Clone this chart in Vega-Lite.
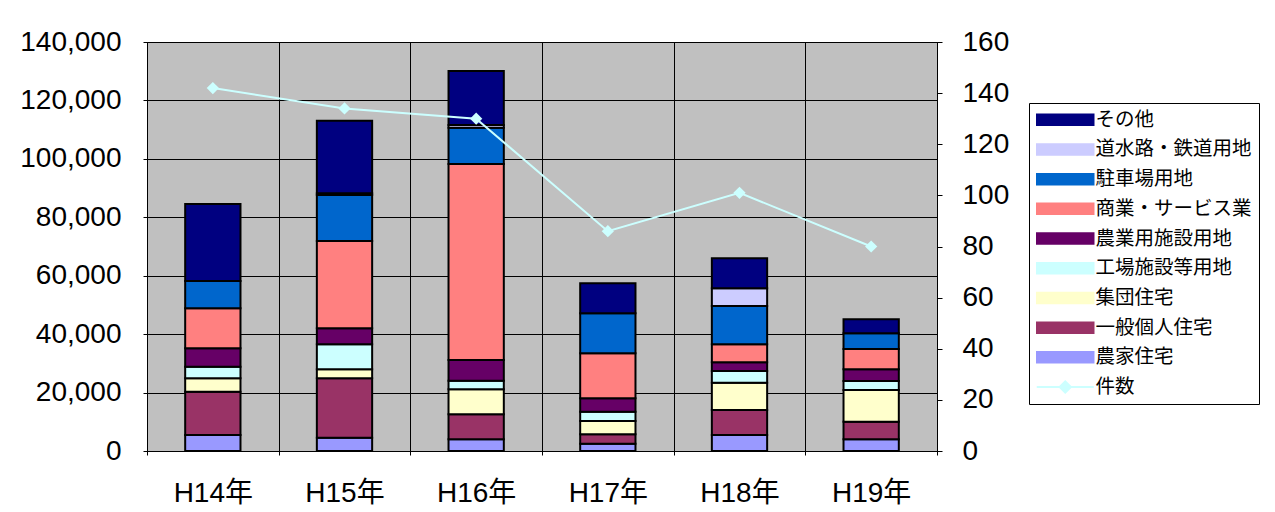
{
  "$schema": "https://vega.github.io/schema/vega-lite/v6.json",
  "width": 790,
  "height": 409,
  "autosize": {"type": "none"},
  "padding": {"left": 147, "top": 42, "right": 338, "bottom": 61},
  "background": "white",
  "config": {
    "font": "Liberation Sans, Noto Sans CJK JP",
    "view": {"fill": "#C0C0C0", "stroke": "#000000", "strokeWidth": 1}
  },
  "datasets": {
    "area": [
      {"年": "H14年", "用途": "農家住宅", "面積": 5480},
      {"年": "H14年", "用途": "一般個人住宅", "面積": 14820},
      {"年": "H14年", "用途": "集団住宅", "面積": 4580},
      {"年": "H14年", "用途": "工場施設等用地", "面積": 3980},
      {"年": "H14年", "用途": "農業用施設用地", "面積": 6290},
      {"年": "H14年", "用途": "商業・サービス業", "面積": 13700},
      {"年": "H14年", "用途": "駐車場用地", "面積": 9340},
      {"年": "H14年", "用途": "その他", "面積": 26360},
      {"年": "H15年", "用途": "農家住宅", "面積": 4560},
      {"年": "H15年", "用途": "一般個人住宅", "面積": 20320},
      {"年": "H15年", "用途": "集団住宅", "面積": 3080},
      {"年": "H15年", "用途": "工場施設等用地", "面積": 8550},
      {"年": "H15年", "用途": "農業用施設用地", "面積": 5480},
      {"年": "H15年", "用途": "商業・サービス業", "面積": 29890},
      {"年": "H15年", "用途": "駐車場用地", "面積": 15750},
      {"年": "H15年", "用途": "道水路・鉄道用地", "面積": 570},
      {"年": "H15年", "用途": "その他", "面積": 24860},
      {"年": "H16年", "用途": "農家住宅", "面積": 3990},
      {"年": "H16年", "用途": "一般個人住宅", "面積": 8560},
      {"年": "H16年", "用途": "集団住宅", "面積": 8560},
      {"年": "H16年", "用途": "工場施設等用地", "面積": 2960},
      {"年": "H16年", "用途": "農業用施設用地", "面積": 7080},
      {"年": "H16年", "用途": "商業・サービス業", "面積": 67090},
      {"年": "H16年", "用途": "駐車場用地", "面積": 12440},
      {"年": "H16年", "用途": "道水路・鉄道用地", "面積": 910},
      {"年": "H16年", "用途": "その他", "面積": 18480},
      {"年": "H17年", "用途": "農家住宅", "面積": 2510},
      {"年": "H17年", "用途": "一般個人住宅", "面積": 3190},
      {"年": "H17年", "用途": "集団住宅", "面積": 4570},
      {"年": "H17年", "用途": "工場施設等用地", "面積": 3190},
      {"年": "H17年", "用途": "農業用施設用地", "面積": 4570},
      {"年": "H17年", "用途": "商業・サービス業", "面積": 15400},
      {"年": "H17年", "用途": "駐車場用地", "面積": 13700},
      {"年": "H17年", "用途": "その他", "面積": 10270},
      {"年": "H18年", "用途": "農家住宅", "面積": 5480},
      {"年": "H18年", "用途": "一般個人住宅", "面積": 8550},
      {"年": "H18年", "用途": "集団住宅", "面積": 9360},
      {"年": "H18年", "用途": "工場施設等用地", "面積": 3990},
      {"年": "H18年", "用途": "農業用施設用地", "面積": 2970},
      {"年": "H18年", "用途": "商業・サービス業", "面積": 6160},
      {"年": "H18年", "用途": "駐車場用地", "面積": 13120},
      {"年": "H18年", "用途": "道水路・鉄道用地", "面積": 6050},
      {"年": "H18年", "用途": "その他", "面積": 10270},
      {"年": "H19年", "用途": "農家住宅", "面積": 3990},
      {"年": "H19年", "用途": "一般個人住宅", "面積": 6050},
      {"年": "H19年", "用途": "集団住宅", "面積": 10840},
      {"年": "H19年", "用途": "工場施設等用地", "面積": 3080},
      {"年": "H19年", "用途": "農業用施設用地", "面積": 4000},
      {"年": "H19年", "用途": "商業・サービス業", "面積": 6950},
      {"年": "H19年", "用途": "駐車場用地", "面積": 5370},
      {"年": "H19年", "用途": "その他", "面積": 4790}
    ],
    "count": [
      {"年": "H14年", "件数": 142},
      {"年": "H15年", "件数": 134},
      {"年": "H16年", "件数": 130},
      {"年": "H17年", "件数": 86},
      {"年": "H18年", "件数": 101},
      {"年": "H19年", "件数": 80}
    ]
  },
  "layer": [
    {
      "data": {"name": "area"},
      "transform": [
        {"calculate": "indexof(['その他','道水路・鉄道用地','駐車場用地','商業・サービス業','農業用施設用地','工場施設等用地','集団住宅','一般個人住宅','農家住宅'], datum['用途'])", "as": "順"}
      ],
      "mark": {"type": "bar", "stroke": "black", "strokeWidth": 2, "width": {"band": 0.42}},
      "encoding": {
        "x": {
          "field": "年", "type": "nominal", "sort": null,
          "scale": {"paddingInner": 0, "paddingOuter": 0},
          "axis": {"title": null, "labelAngle": 0, "labelFontSize": 28, "labelColor": "black", "labelPadding": 24, "tickBand": "extent", "grid": true, "gridColor": "black", "gridOpacity": 1, "gridWidth": 1, "tickColor": "black", "tickSize": 4, "domain": false}
        },
        "y": {
          "field": "面積", "type": "quantitative", "stack": "zero",
          "scale": {"domain": [0, 140000], "nice": false},
          "axis": {"title": null, "values": [0, 20000, 40000, 60000, 80000, 100000, 120000, 140000], "format": ",d", "labelFontSize": 28, "labelColor": "black", "labelPadding": 22, "grid": true, "gridColor": "black", "gridOpacity": 1, "gridWidth": 1, "tickColor": "black", "tickSize": 4, "domain": false}
        },
        "color": {
          "field": "用途", "type": "nominal",
          "scale": {
            "domain": ["その他", "道水路・鉄道用地", "駐車場用地", "商業・サービス業", "農業用施設用地", "工場施設等用地", "集団住宅", "一般個人住宅", "農家住宅", "件数"],
            "range": ["#000080", "#CCCCFF", "#0066CC", "#FF8080", "#660066", "#CCFFFF", "#FFFFCC", "#993366", "#9999FF", "#CCFFFF"]
          },
          "legend": {
            "orient": "none", "legendX": 882, "legendY": 61, "title": null,
            "strokeColor": "black", "fillColor": "white", "padding": 7,
            "labelFontSize": 19.5, "labelFont": "Noto Sans CJK JP", "labelColor": "black", "labelLimit": 300,
            "symbolType": "M-1.5,-0.92H8V0.92H-1.5Z", "symbolSize": 144,
            "symbolStrokeColor": "black", "symbolStrokeWidth": 1.5,
            "rowPadding": 8.7, "labelOffset": 40,
            "encode": {
              "symbols": {
                "update": {
                  "shape": {"signal": "datum.value === '件数' ? 'M-1.5,-0.17H8V0.17H-1.5Z M3.25,-1.17L4.42,0L3.25,1.17L2.08,0Z' : 'M-1.5,-0.92H8V0.92H-1.5Z'"},
                  "stroke": {"signal": "datum.value === '件数' ? 'transparent' : 'black'"},
                  "strokeWidth": {"signal": "datum.value === '件数' ? 0 : 1.5"},
                  "strokeOpacity": {"value": 1},
                  "fill": {"scale": "color", "field": "value"},
                  "opacity": {"value": 1},
                  "fillOpacity": {"value": 1}
                }
              }
            }
          }
        },
        "order": {"field": "順", "type": "quantitative", "sort": "descending"}
      }
    },
    {
      "data": {"name": "count"},
      "encoding": {
        "x": {"field": "年", "type": "nominal", "sort": null},
        "y": {
          "field": "件数", "type": "quantitative",
          "scale": {"domain": [0, 160], "nice": false},
          "axis": {"title": null, "orient": "right", "values": [0, 20, 40, 60, 80, 100, 120, 140, 160], "format": "d", "labelFontSize": 28, "labelColor": "black", "labelPadding": 20, "grid": false, "tickColor": "black", "tickSize": 5, "domain": false}
        },
        "color": {"datum": "件数", "legend": null}
      },
      "layer": [
        {"mark": {"type": "line", "strokeWidth": 2}},
        {"mark": {"type": "point", "shape": "diamond", "filled": true, "size": 150, "opacity": 1}}
      ]
    }
  ],
  "resolve": {"scale": {"y": "independent"}}
}
